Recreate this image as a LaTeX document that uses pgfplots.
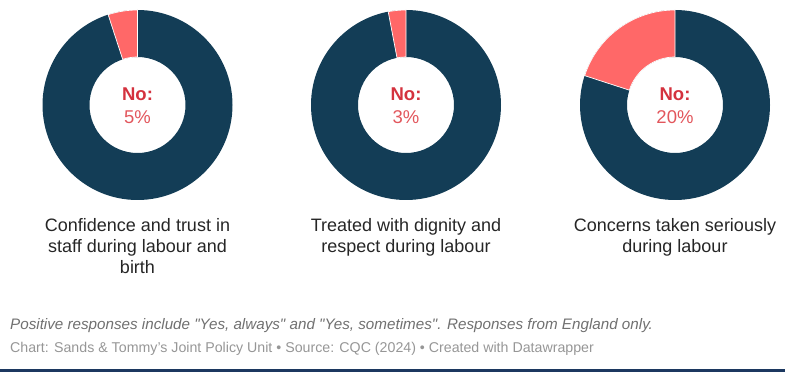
\documentclass[border=0pt]{standalone}
\usepackage{pgfplots}
\pgfplotsset{compat=1.18}
\usepackage{fontspec}
\setmainfont{Liberation Sans}
\definecolor{navy}{RGB}{19,61,86}
\definecolor{nored}{RGB}{255,104,104}
\definecolor{nolab}{RGB}{212,50,62}
\definecolor{pct}{RGB}{226,86,92}
\definecolor{foot1}{RGB}{112,112,112}
\definecolor{foot2}{RGB}{150,150,150}
\definecolor{bottomline}{RGB}{28,56,96}
% #1 centre x (px), #2 centre y (px from top), #3 share answering "No" (%)
\newcommand{\donut}[3]{%
  \fill[navy, even odd rule, shift={(axis cs:#1,372-#2)}] (0,0) circle[radius=95pt] (0,0) circle[radius=48pt];
  \filldraw[fill=nored, draw=white, line width=0.7pt, shift={(axis cs:#1,372-#2)}]
    (90:95pt) arc[start angle=90, end angle={90+3.6*#3}, radius=95pt]
    -- ({90+3.6*#3}:48pt) arc[start angle={90+3.6*#3}, end angle=90, radius=48pt] -- cycle;
  \node[anchor=base, text=nolab, font=\fontsize{18.5}{22}\selectfont\bfseries] at (axis cs:#1,372-101) {No:};
  \node[anchor=base, text=pct, font=\fontsize{18.5}{22}\selectfont] at (axis cs:#1,372-124) {#3\%};
}
\begin{document}
\begin{tikzpicture}
\begin{axis}[
  width=785pt, height=372pt, scale only axis,
  xmin=0, xmax=785, ymin=0, ymax=372,
  enlargelimits=false, hide axis, clip=false,
]
\donut{137.5}{105}{5}
\donut{406}{105}{3}
\donut{675}{105}{20}

\begin{scope}[every node/.style={anchor=base, inner sep=0pt, text=black!85, font=\fontsize{18}{21}\selectfont}]
\node at (axis cs:137.5,372-232) {Confidence and trust in};
\node at (axis cs:137.5,372-253) {staff during labour and};
\node at (axis cs:137.5,372-274) {birth};
\node at (axis cs:406,372-232) {Treated with dignity and};
\node at (axis cs:406,372-253) {respect during labour};
\node at (axis cs:675,372-232) {Concerns taken seriously};
\node at (axis cs:675,372-253) {during labour};
\end{scope}

\node[anchor=base west, inner sep=0pt, text=foot1, font=\fontsize{15.2}{17}\selectfont\itshape] at (axis cs:10,372-330)
  {Positive responses include \textquotedbl Yes, always\textquotedbl{} and \textquotedbl Yes, sometimes\textquotedbl. Responses from England only.};
\node[anchor=base west, inner sep=0pt, text=foot2, font=\fontsize{14.2}{16}\selectfont] at (axis cs:10,372-353)
  {Chart: Sands \& Tommy's Joint Policy Unit • Source: CQC (2024) • Created with Datawrapper};

\fill[bottomline] (axis cs:0,0) rectangle (axis cs:785,2.5);
\path (axis cs:0,0) (axis cs:785,372);
\end{axis}
\end{tikzpicture}
\end{document}
